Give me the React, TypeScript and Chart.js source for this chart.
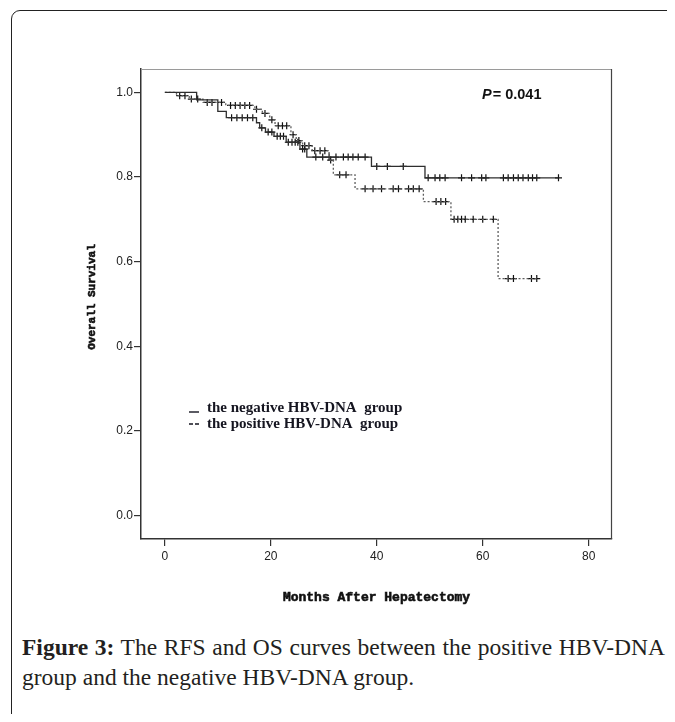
import React, { useEffect, useRef } from 'react';
import { Chart, registerables } from 'chart.js';
Chart.register(...registerables);

// ---- data ----
const xTickValues = [0, 20, 40, 60, 80];
const yTickValues = [0, 0.2, 0.4, 0.6, 0.8, 1.0];

// negative HBV-DNA group (solid)
const negTimes = [0, 6.0, 10.0, 11.6, 17.3, 17.9, 19.0, 20.6, 22.9, 25.5, 26.8, 39.0, 49.1];
const negSurv = [1.0, 0.982, 0.955, 0.94, 0.928, 0.916, 0.906, 0.896, 0.882, 0.866, 0.847, 0.825, 0.798];
const negLastTime = 74.3;
const negCensored = [
  12.6, 13.6, 14.6, 15.6, 16.6, 18.3, 19.5, 20.2, 21.2, 21.8, 22.4, 23.3, 24.0, 24.6, 25.1,
  26.0, 26.4, 28.5, 29.8, 31.0, 32.3, 33.7, 34.6, 35.5, 36.5, 37.8, 40.0, 42.0, 45.0,
  49.7, 51.0, 51.9, 52.9, 56.0, 57.9, 59.8, 60.6, 63.9, 64.8, 65.8, 66.7, 67.6, 68.6, 69.4, 70.2, 74.3,
];

// positive HBV-DNA group (dashed)
const posTimes = [0, 2.2, 4.6, 7.2, 11.5, 17.0, 18.4, 19.8, 20.8, 23.8, 24.8, 26.0, 27.8, 31.0, 31.8, 35.9, 48.8, 54.0, 62.9];
const posSurv = [1.0, 0.992, 0.984, 0.976, 0.969, 0.96, 0.95, 0.935, 0.921, 0.9, 0.886, 0.874, 0.862, 0.84, 0.805, 0.772, 0.742, 0.7, 0.56];
const posLastTime = 70.3;
const posCensored = [
  2.8, 3.8, 5.0, 6.2, 8.0, 8.9, 10.7, 12.4, 13.3, 14.2, 15.1, 16.0, 17.3, 18.9, 20.2, 21.4, 22.2, 23.0,
  24.2, 25.3, 26.4, 27.2, 28.3, 29.3, 30.2, 31.3, 33.0, 34.2, 37.8, 39.3, 40.9, 43.1, 44.1, 46.0, 46.9, 48.0,
  51.2, 52.1, 53.0, 54.6, 55.3, 56.0, 56.7, 58.2, 60.0, 62.0, 64.8, 65.8, 69.2, 70.2,
];

const legendLabels = ['the negative HBV-DNA  group', 'the positive HBV-DNA  group'];
const pValueText = '= 0.041';
const xTitle = 'Months After Hepatectomy';
const yTitle = 'Overall Survival';

function survAt(times: number[], surv: number[], t: number) {
  let v = surv[0];
  for (let i = 0; i < times.length; i++) if (times[i] <= t) v = surv[i];
  return v;
}
function linePoints(times: number[], surv: number[], last: number) {
  const pts = times.map((t, i) => ({ x: t, y: surv[i] }));
  pts.push({ x: last, y: surv[surv.length - 1] });
  return pts;
}
function censorPoints(times: number[], surv: number[], cens: number[]) {
  return cens.map((t) => ({ x: t, y: survAt(times, surv, t) }));
}

function boldText(ctx: any, s: string, x: number, y: number, w: number) {
  ctx.fillText(s, x, y);
  ctx.lineWidth = w;
  ctx.strokeText(s, x, y);
}

const overlay = {
  id: 'overlay',
  afterDraw(chart: any) {
    const { ctx, chartArea: a } = chart;
    ctx.save();
    // top & right frame
    ctx.lineWidth = 1.2;
    ctx.strokeStyle = '#9a9a9a';
    ctx.beginPath();
    ctx.moveTo(a.left, a.top + 0.5);
    ctx.lineTo(a.right, a.top + 0.5);
    ctx.stroke();
    ctx.strokeStyle = '#444';
    ctx.beginPath();
    ctx.moveTo(a.right - 0.5, a.top);
    ctx.lineTo(a.right - 0.5, a.bottom);
    ctx.stroke();

    // axis titles
    ctx.fillStyle = '#111';
    ctx.strokeStyle = '#111';
    ctx.font = 'bold 13px "Liberation Mono"';
    ctx.textAlign = 'center';
    ctx.textBaseline = 'middle';
    boldText(ctx, xTitle, (a.left + a.right) / 2, 590, 0.6);
    ctx.save();
    ctx.translate(84, 289);
    ctx.rotate(-Math.PI / 2);
    ctx.font = 'bold 11px "Liberation Mono"';
    boldText(ctx, yTitle, 0, 0, 0.6);
    ctx.restore();

    // legend
    ctx.textAlign = 'left';
    ctx.font = 'bold 15px "Liberation Serif"';
    ctx.fillStyle = '#151520';
    ctx.fillText(legendLabels[0], 199, 400);
    ctx.fillText(legendLabels[1], 199, 416);
    ctx.strokeStyle = '#151520';
    ctx.lineWidth = 1.4;
    ctx.beginPath();
    ctx.moveTo(181, 404);
    ctx.lineTo(191, 404);
    ctx.stroke();
    ctx.beginPath();
    ctx.moveTo(181, 416);
    ctx.lineTo(185, 416);
    ctx.moveTo(187, 416);
    ctx.lineTo(191, 416);
    ctx.stroke();

    // p-value
    ctx.fillStyle = '#111';
    ctx.font = 'italic bold 14.5px "Liberation Sans"';
    ctx.fillText('P', 474, 87);
    const pw = ctx.measureText('P').width;
    ctx.font = 'bold 14.5px "Liberation Sans"';
    ctx.fillText(pValueText, 474 + pw + 1, 87);
    ctx.restore();
  },
};

export default function App() {
  const ref = useRef<HTMLCanvasElement>(null);
  useEffect(() => {
    const canvas = ref.current!;
    const tickFont = { family: 'Liberation Sans', size: 12 };
    const chart = new Chart(canvas, {
      type: 'scatter',
      data: {
        datasets: [
          {
            data: linePoints(negTimes, negSurv, negLastTime),
            showLine: true,
            stepped: true,
            borderColor: '#2e2e2e',
            borderWidth: 1.3,
            pointRadius: 0,
          },
          {
            data: linePoints(posTimes, posSurv, posLastTime),
            showLine: true,
            stepped: true,
            borderColor: '#5e5e5e',
            borderWidth: 1.3,
            borderDash: [2, 2],
            pointRadius: 0,
          },
          {
            data: censorPoints(negTimes, negSurv, negCensored),
            showLine: false,
            pointStyle: 'cross',
            pointRadius: 3.5,
            borderColor: '#111',
            pointBorderColor: '#111',
            pointBorderWidth: 1.2,
          },
          {
            data: censorPoints(posTimes, posSurv, posCensored),
            showLine: false,
            pointStyle: 'cross',
            pointRadius: 3.5,
            borderColor: '#111',
            pointBorderColor: '#111',
            pointBorderWidth: 1.2,
          },
        ] as any,
      },
      options: {
        animation: false,
        responsive: false,
        layout: { padding: { left: 0, top: 61, right: 55, bottom: 0 } },
        plugins: { legend: { display: false }, tooltip: { enabled: false } },
        scales: {
          x: {
            type: 'linear',
            min: -4.5,
            max: 84.4,
            afterBuildTicks: (s: any) => {
              s.ticks = xTickValues.map((v) => ({ value: v }));
            },
            afterFit: (s: any) => {
              s.height = 69;
            },
            grid: { drawOnChartArea: false, drawTicks: true, tickLength: 7, color: '#333', lineWidth: 1.2 },
            border: { display: true, color: '#333', width: 1.5 },
            ticks: { padding: 3, color: '#222', font: tickFont, maxRotation: 0, autoSkip: false },
          },
          y: {
            type: 'linear',
            min: -0.055,
            max: 1.055,
            afterBuildTicks: (s: any) => {
              s.ticks = yTickValues.map((v) => ({ value: v }));
            },
            afterFit: (s: any) => {
              s.width = 133;
            },
            grid: { drawOnChartArea: false, drawTicks: true, tickLength: 7, color: '#333', lineWidth: 1.2 },
            border: { display: true, color: '#333', width: 1.5 },
            ticks: {
              padding: 1,
              color: '#222',
              font: tickFont,
              autoSkip: false,
              callback: (v: any) => Number(v).toFixed(1),
            },
          },
        },
      } as any,
      plugins: [overlay],
    });
    return () => chart.destroy();
  }, []);

  return (
    <div style={{ position: 'relative', width: 659, height: 706, overflow: 'hidden', background: '#fff' }}>
      <div
        style={{
          position: 'absolute',
          left: 3,
          top: 2,
          width: 720,
          height: 800,
          border: '1.5px solid #222',
          borderRadius: 9,
          boxSizing: 'border-box',
        }}
      />
      <canvas ref={ref} width={659} height={600} style={{ position: 'absolute', left: 0, top: 0, width: 659, height: 600 }} />
      <div
        style={{
          position: 'absolute',
          left: 14,
          top: 624,
          fontFamily: '"Liberation Serif", serif',
          fontSize: 23.5,
          lineHeight: '30px',
          color: '#231f20',
        }}
      >
        <div style={{ width: 643, textAlign: 'justify', textAlignLast: 'justify', whiteSpace: 'nowrap' } as any}>
          <b>Figure 3:</b> The RFS and OS curves between the positive HBV-DNA
        </div>
        <div style={{ whiteSpace: 'nowrap' }}>group and the negative HBV-DNA group.</div>
      </div>
    </div>
  );
}
